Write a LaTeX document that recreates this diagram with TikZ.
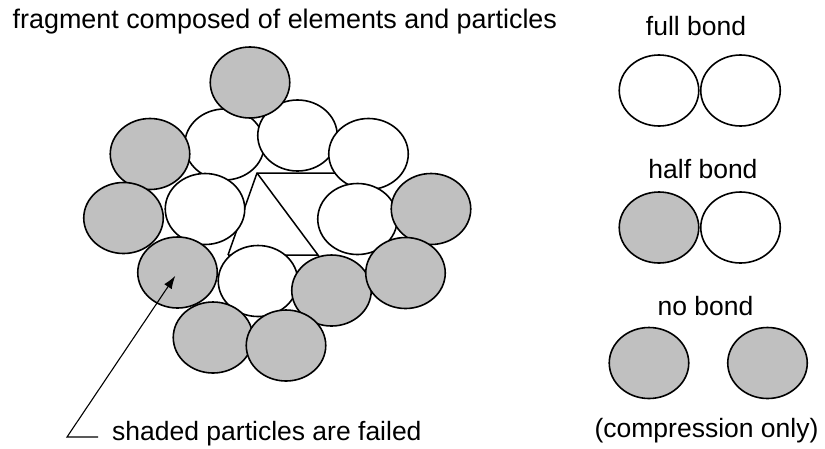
\documentclass[tikz,border=0pt]{standalone}
\usepackage{fontspec}
\setmainfont{Liberation Sans}
\usetikzlibrary{shapes.geometric,arrows.meta}
\definecolor{failgray}{HTML}{C0C0C0}
\tikzset{
  particle/.style={ellipse, draw=black, line width=1.6pt, inner sep=0pt, minimum width=79.5pt, minimum height=71pt},
  intact/.style={particle, fill=white},
  failed/.style={particle, fill=failgray},
  elemline/.style={line width=1.5pt},
  lbl/.style={inner sep=0pt, font=\fontsize{26.5}{32}\selectfont},
  pointer/.style={line width=1.1pt, -{Latex[length=13pt,width=9pt]}, shorten >=4pt}
}
\begin{document}
\begin{tikzpicture}[x=1pt,y=1pt]
\useasboundingbox (0,0) rectangle (825,-448);
% element (triangle) lines, beneath the particles
\coordinate (t1) at (257,-173);
\coordinate (t2) at (345,-173);
\coordinate (t3) at (318,-255);
\coordinate (t4) at (228,-255);
\draw[elemline] (t4) -- (t1) -- (t2);
\draw[elemline] (t1) -- (t3) -- (t4);
% intact particles
\node[intact] (w2) at (224.5,-144.5) {};
\node[intact] (w3) at (297.5,-135.5) {};
\node[intact] (w4) at (368.5,-154) {};
\node[intact] (w7) at (205,-209) {};
\node[intact] (w8) at (357.5,-219) {};
\node[intact] (w11) at (258,-281) {};
% failed particles
\node[failed] (g1) at (250,-82.5) {};
\node[failed] (g5) at (150,-154) {};
\node[failed] (g6) at (123.5,-218) {};
\node[failed] (g9) at (431,-209) {};
\node[failed] (g10) at (177.5,-272.5) {};
\node[failed] (g12) at (331.5,-290.5) {};
\node[failed] (g13) at (405.5,-273) {};
\node[failed] (g14) at (213,-337.5) {};
\node[failed] (g15) at (286,-345.5) {};
% legend
\node[intact] (fb1) at (659,-90.5) {};
\node[intact] (fb2) at (740.5,-90.5) {};
\node[failed] (hb1) at (659,-227.5) {};
\node[intact] (hb2) at (740.5,-227.5) {};
\node[failed] (nb1) at (649,-363) {};
\node[failed] (nb2) at (767.5,-363) {};
% texts
\node[lbl, anchor=base west, font=\fontsize{26.9}{32}\selectfont] (title) at (12.5,-28) {fragment composed of elements and particles};
\node[lbl, anchor=base] (tfull) at (696,-35) {full bond};
\node[lbl, anchor=base] (thalf) at (703,-178) {half bond};
\node[lbl, anchor=base] (tno) at (705.5,-315) {no bond};
\node[lbl, anchor=base] (tcomp) at (706.5,-437) {(compression only)};
\node[lbl, anchor=base west] (tshaded) at (112,-440) {shaded particles are failed};
% pointer
\coordinate (tailend) at (98,-437);
\coordinate (bend) at (67,-437);
\draw[pointer] (tailend) -- (bend) -- (g10.center);
\end{tikzpicture}
\end{document}
